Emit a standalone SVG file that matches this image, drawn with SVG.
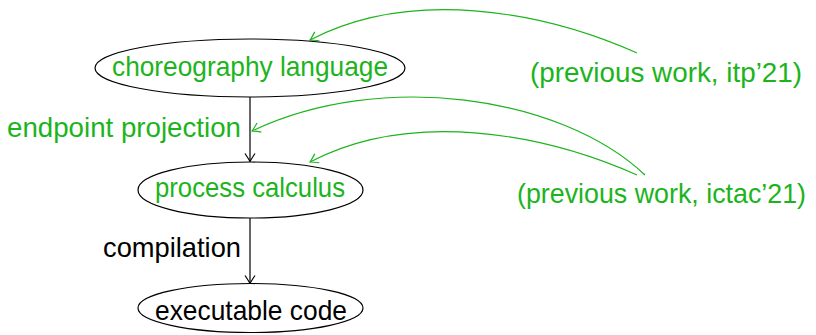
<svg xmlns="http://www.w3.org/2000/svg" width="816" height="335" viewBox="0 0 816 335">
<defs>
<marker id="ahb" viewBox="-10 -6 12 12" markerWidth="12" markerHeight="12" refX="0" refY="0" orient="auto" markerUnits="userSpaceOnUse">
<path d="M -8,-5 Q -2,-1 0,0 Q -2,1 -8,5" fill="none" stroke="#000" stroke-width="1.2"/>
</marker>
<marker id="ahg" viewBox="-10 -6 12 12" markerWidth="12" markerHeight="12" refX="0" refY="0" orient="auto" markerUnits="userSpaceOnUse">
<path d="M -8,-5 Q -2,-1 0,0 Q -2,1 -8,5" fill="none" stroke="#1cb41c" stroke-width="1.2"/>
</marker>
</defs>
<style>
.node ellipse { fill: #fff; stroke: #000; stroke-width: 1.2; }
text { font-family: "Liberation Sans", Arial, sans-serif; font-size: 28px; }
.g { fill: #1cb41c; }
.k { fill: #000; }
.edge { fill: none; stroke: #000; stroke-width: 1.2; marker-end: url(#ahb); }
.ref { fill: none; stroke: #1cb41c; stroke-width: 1.2; marker-end: url(#ahg); }
</style>
<g id="connectors">
<line class="edge" x1="250" y1="97" x2="250" y2="161.5"/>
<line class="edge" x1="250" y1="218" x2="250" y2="283.5"/>
<path class="ref" d="M 637,53 C 540,10 410,-12 310,40"/>
<path class="ref" d="M 645,175 C 560,95 380,70 252,131"/>
<path class="ref" d="M 637,175 C 540,132 410,110 310,162"/>
</g>
<g id="n-choreo" class="node">
<ellipse cx="250" cy="68" rx="155" ry="29"/>
<text class="g" x="250" y="76" text-anchor="middle" textLength="276" lengthAdjust="spacingAndGlyphs">choreography language</text>
</g>
<g id="n-process" class="node">
<ellipse cx="250.5" cy="190" rx="112.5" ry="28"/>
<text class="g" x="250" y="197" text-anchor="middle" textLength="190" lengthAdjust="spacingAndGlyphs">process calculus</text>
</g>
<g id="n-exec" class="node">
<ellipse cx="250.5" cy="308" rx="112.5" ry="24.5"/>
<text class="k" x="251" y="320" text-anchor="middle" textLength="192" lengthAdjust="spacingAndGlyphs">executable code</text>
</g>
<g id="l-epp">
<text class="g" x="7" y="137" textLength="234" lengthAdjust="spacingAndGlyphs">endpoint projection</text>
</g>
<g id="l-comp">
<text class="k" x="103" y="257" textLength="138" lengthAdjust="spacingAndGlyphs">compilation</text>
</g>
<g id="n-itp">
<text class="g" x="530" y="82" textLength="272" lengthAdjust="spacingAndGlyphs">(previous work, itp’21)</text>
</g>
<g id="n-ictac">
<text class="g" x="517" y="203" textLength="289" lengthAdjust="spacingAndGlyphs">(previous work, ictac’21)</text>
</g>
</svg>
